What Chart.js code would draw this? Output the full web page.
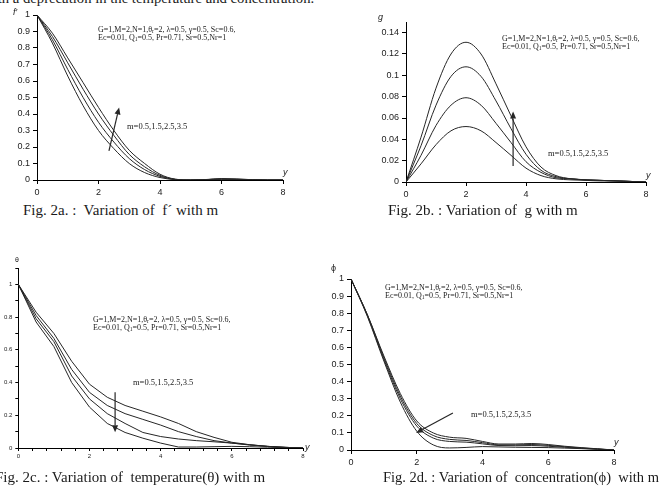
<!DOCTYPE html>
<html>
<head>
<meta charset="utf-8">
<script src="https://cdn.jsdelivr.net/npm/chart.js@4.4.1/dist/chart.umd.min.js"></script>
<style>
  html, body { margin: 0; padding: 0; background: #fff; }
  body { width: 665px; height: 503px; position: relative; overflow: hidden; font-family: 'Liberation Serif', 'Times New Roman', serif; color: #1a1a1a; }
  canvas { position: absolute; }
  .t { position: absolute; white-space: pre; line-height: 1; }
  .cap { font-size: 15px; }
  .top { font-size: 14.7px; }
  .par { font-size: 8px; line-height: 8px; }
  .m { font-size: 8.5px; }
  .ax { font-family: 'Liberation Sans', Arial, sans-serif; font-style: italic; font-size: 9px; }
  sub { font-size: 0.7em; vertical-align: -1px; line-height: 0; }
</style>
</head>
<body>
<div class="t top" style="left:-17px; top:-9px;">with a deprecation in the temperature and concentration.</div>

<canvas id="figA"></canvas>
<canvas id="figB"></canvas>
<canvas id="figC"></canvas>
<canvas id="figD"></canvas>

<div class="t ax" style="left:13px; top:8px;">f′</div>
<div class="t ax" style="left:283px; top:168px;">y</div>
<div class="t par" style="left:98px; top:26px;">G=1,M=2,N=1,θ<sub>r</sub>=2, λ=0.5, γ=0.5, Sc=0.6,
Ec=0.01, Q<sub>1</sub>=0.5, Pr=0.71, Sr=0.5,Nr=1</div>
<div class="t m" style="left:127px; top:122px;">m=0.5,1.5,2.5,3.5</div>
<div class="t cap" style="left:23px; top:203px;">Fig. 2a. :  Variation of  f´ with m</div>

<div class="t ax" style="left:378px; top:13px;">g</div>
<div class="t ax" style="left:646px; top:171px;">y</div>
<div class="t par" style="left:502px; top:35px;">G=1,M=2,N=1,θ<sub>r</sub>=2, λ=0.5, γ=0.5, Sc=0.6,
Ec=0.01, Q<sub>1</sub>=0.5, Pr=0.71, Sr=0.5,Nr=1</div>
<div class="t m" style="left:548px; top:149px;">m=0.5,1.5,2.5,3.5</div>
<div class="t cap" style="left:388px; top:203px;">Fig. 2b. : Variation of  g with m</div>

<div class="t ax" style="left:15px; top:256px; font-size:7px; font-style:normal;">θ</div>
<div class="t ax" style="left:305px; top:443px;">y</div>
<div class="t par" style="left:93px; top:316px;">G=1,M=2,N=1,θ<sub>r</sub>=2, λ=0.5, γ=0.5, Sc=0.6,
Ec=0.01, Q<sub>1</sub>=0.5, Pr=0.71, Sr=0.5,Nr=1</div>
<div class="t m" style="left:133px; top:378px;">m=0.5,1.5,2.5,3.5</div>
<div class="t cap" style="left:-5px; top:470px;">Fig. 2c. : Variation of  temperature(θ) with m</div>

<div class="t ax" style="left:331px; top:264px; font-style:normal;">ϕ</div>
<div class="t ax" style="left:614px; top:438px;">y</div>
<div class="t par" style="left:385px; top:284px;">G=1,M=2,N=1,θ<sub>r</sub>=2, λ=0.5, γ=0.5, Sc=0.6,
Ec=0.01, Q<sub>1</sub>=0.5, Pr=0.71, Sr=0.5,Nr=1</div>
<div class="t m" style="left:471px; top:410px;">m=0.5,1.5,2.5,3.5</div>
<div class="t cap" style="left:383px; top:470px; font-size:14.5px;">Fig. 2d. : Variation of  concentration(ϕ)  with m</div>

<script>
// y positions shared by every curve
const etas = [0, 0.5, 1, 1.5, 2, 2.5, 3, 3.5, 4, 4.5, 5, 5.5, 6, 6.5, 7, 7.5, 8];
const etaTicks = [0, 2, 4, 6, 8];

// Fig. 2a  f'
const fpM05 = [1, 0.83, 0.63, 0.45, 0.30, 0.19, 0.10, 0.045, 0.015, 0.002, 0, 0.001, 0.004, 0.003, 0.001, 0, 0];
const fpM15 = [1, 0.85, 0.67, 0.50, 0.35, 0.23, 0.13, 0.063, 0.022, 0.003, 0, 0.002, 0.006, 0.004, 0.001, 0, 0];
const fpM25 = [1, 0.87, 0.71, 0.55, 0.40, 0.27, 0.155, 0.08, 0.028, 0.004, 0, 0.002, 0.007, 0.005, 0.002, 0, 0];
const fpM35 = [1, 0.89, 0.74, 0.59, 0.44, 0.30, 0.18, 0.10, 0.035, 0.005, 0, 0.003, 0.008, 0.006, 0.002, 0, 0];
const fpTicks = [0, 0.1, 0.2, 0.3, 0.4, 0.5, 0.6, 0.7, 0.8, 0.9, 1];

// Fig. 2b  g
const gM05 = [0, 0.017, 0.035, 0.048, 0.052, 0.048, 0.037, 0.025, 0.013, 0.006, 0.003, 0.002, 0.0015, 0.001, 0.001, 0.0005, 0];
const gM15 = [0, 0.025, 0.053, 0.072, 0.079, 0.072, 0.055, 0.037, 0.019, 0.009, 0.004, 0.003, 0.002, 0.0015, 0.001, 0.0005, 0];
const gM25 = [0, 0.034, 0.072, 0.099, 0.108, 0.099, 0.076, 0.050, 0.026, 0.011, 0.005, 0.003, 0.002, 0.0015, 0.001, 0.0005, 0];
const gM35 = [0, 0.042, 0.088, 0.120, 0.131, 0.120, 0.092, 0.062, 0.033, 0.014, 0.006, 0.003, 0.002, 0.0015, 0.001, 0.0005, 0];
const gTicks = [0, 0.02, 0.04, 0.06, 0.08, 0.1, 0.12, 0.14];

// Fig. 2c  theta
const thM05 = [1, 0.83, 0.70, 0.53, 0.39, 0.31, 0.26, 0.225, 0.19, 0.15, 0.10, 0.065, 0.035, 0.02, 0.01, 0.004, 0];
const thM15 = [1, 0.81, 0.67, 0.48, 0.34, 0.26, 0.21, 0.175, 0.14, 0.10, 0.07, 0.045, 0.03, 0.018, 0.01, 0.004, 0];
const thM25 = [1, 0.79, 0.65, 0.44, 0.30, 0.21, 0.15, 0.095, 0.07, 0.055, 0.045, 0.038, 0.03, 0.02, 0.01, 0.004, 0];
const thM35 = [1, 0.77, 0.62, 0.40, 0.25, 0.15, 0.095, 0.06, 0.03, 0.006, 0.006, 0.008, 0.01, 0.008, 0.005, 0.002, 0];
const thTicks = [0, 0.1, 0.2, 0.3, 0.4, 0.5, 0.6, 0.7, 0.8, 0.9, 1, 1.1];
const thLabels = [0, 0.2, 0.4, 0.6, 0.8, 1];
const thEtaTicks = [0, 0.4, 0.8, 1.2, 1.6, 2, 2.4, 2.8, 3.2, 3.6, 4, 4.4, 4.8, 5.2, 5.6, 6, 6.4, 6.8, 7.2, 7.6, 8];

// Fig. 2d  phi
const phM05 = [1, 0.79, 0.55, 0.33, 0.17, 0.10, 0.075, 0.068, 0.05, 0.035, 0.035, 0.038, 0.032, 0.022, 0.014, 0.007, 0];
const phM15 = [1, 0.79, 0.54, 0.315, 0.155, 0.085, 0.062, 0.056, 0.043, 0.03, 0.03, 0.032, 0.027, 0.019, 0.012, 0.006, 0];
const phM25 = [1, 0.785, 0.53, 0.30, 0.14, 0.07, 0.05, 0.046, 0.036, 0.026, 0.025, 0.026, 0.022, 0.016, 0.01, 0.005, 0];
const phM35 = [1, 0.78, 0.52, 0.28, 0.11, 0.03, 0.012, 0.015, 0.02, 0.018, 0.016, 0.015, 0.014, 0.011, 0.008, 0.004, 0];
const phTicks = [0, 0.1, 0.2, 0.3, 0.4, 0.5, 0.6, 0.7, 0.8, 0.9, 1];

const ink = '#262626';

const arrowPlugin = {
  id: 'arrow',
  afterDatasetsDraw(chart, args, opts) {
    if (!opts.from) return;
    const { x, y } = chart.scales;
    const x1 = x.getPixelForValue(opts.from[0]);
    const y1 = y.getPixelForValue(opts.from[1]);
    const x2 = x.getPixelForValue(opts.to[0]);
    const y2 = y.getPixelForValue(opts.to[1]);
    const a = Math.atan2(y2 - y1, x2 - x1);
    const c = Math.cos(a), s = Math.sin(a);
    const len = 7, half = 3;
    const ctx = chart.ctx;
    ctx.save();
    ctx.strokeStyle = ink;
    ctx.fillStyle = ink;
    ctx.lineWidth = 1.2;
    ctx.beginPath();
    ctx.moveTo(x1, y1);
    ctx.lineTo(x2 - len * c, y2 - len * s);
    ctx.stroke();
    ctx.beginPath();
    ctx.moveTo(x2, y2);
    ctx.lineTo(x2 - len * c + half * s, y2 - len * s - half * c);
    ctx.lineTo(x2 - len * c - half * s, y2 - len * s + half * c);
    ctx.closePath();
    ctx.fill();
    ctx.restore();
  },
};

function fmt(v) {
  return String(Number(v.toFixed(3)));
}

function axis(ticks, labels, min, max, size, tickLen, pad, fixed) {
  return {
    type: 'linear',
    min,
    max,
    border: { display: true, color: '#000', width: 1 },
    grid: { drawOnChartArea: false, drawTicks: true, tickLength: tickLen, color: '#000' },
    afterBuildTicks: (scale) => {
      scale.ticks = ticks.map((v) => ({ value: v }));
    },
    afterFit: (scale) => {
      if (scale.isHorizontal()) scale.height = fixed;
      else scale.width = fixed;
    },
    ticks: {
      autoSkip: false,
      maxRotation: 0,
      padding: pad,
      color: '#222',
      font: { family: 'Liberation Sans', size },
      callback: (v) => (labels.some((l) => Math.abs(l - v) < 1e-9) ? fmt(v) : ''),
    },
  };
}

function makeFigure(id, cfg) {
  const el = document.getElementById(id);
  const [pl, pt, pr, pb] = cfg.pad;
  const w = Math.round(pl + cfg.box.r - cfg.box.l + pr);
  const h = Math.round(pt + cfg.box.b - cfg.box.t + pb);
  el.width = w;
  el.height = h;
  el.style.left = (cfg.box.l - pl) + 'px';
  el.style.top = (cfg.box.t - pt) + 'px';

  return new Chart(el, {
    type: 'line',
    data: {
      datasets: cfg.series.map((ys) => ({
        data: etas.map((x, i) => ({ x, y: ys[i] })),
        borderColor: ink,
        borderWidth: 1,
        pointRadius: 0,
        fill: false,
        tension: cfg.smooth ? 0.4 : 0,
        cubicInterpolationMode: cfg.smooth ? 'monotone' : 'default',
      })),
    },
    options: {
      responsive: false,
      animation: false,
      devicePixelRatio: 1,
      layout: { padding: { left: 0, top: pt, right: pr, bottom: 0 } },
      plugins: {
        legend: { display: false },
        tooltip: { enabled: false },
        arrow: cfg.arrow,
      },
      scales: {
        x: axis(cfg.xTicks, cfg.xLabels, 0, 8, cfg.font, cfg.tickLen, cfg.xPad, pb),
        y: axis(cfg.yTicks, cfg.yLabels, 0, cfg.yMax, cfg.font, cfg.tickLen, cfg.yPad, pl),
      },
    },
    plugins: [arrowPlugin],
  });
}

makeFigure('figA', {
  box: { l: 37, t: 15, r: 283, b: 180 },
  pad: [37, 10, 12, 22],
  series: [fpM05, fpM15, fpM25, fpM35],
  xTicks: etaTicks, xLabels: etaTicks,
  yTicks: fpTicks, yLabels: fpTicks, yMax: 1,
  font: 9, tickLen: 4, xPad: 3, yPad: 3,
  smooth: true,
  arrow: { from: [2.34, 0.176], to: [2.67, 0.44] },
});

makeFigure('figB', {
  box: { l: 406, t: 21.6, r: 646, b: 182 },
  pad: [40, 10, 12, 22],
  series: [gM05, gM15, gM25, gM35],
  xTicks: etaTicks, xLabels: etaTicks,
  yTicks: gTicks, yLabels: gTicks, yMax: 0.15,
  font: 9, tickLen: 4, xPad: 3, yPad: 3,
  smooth: true,
  arrow: { from: [3.57, 0.015], to: [3.57, 0.066] },
});

makeFigure('figC', {
  box: { l: 18.3, t: 268, r: 303, b: 447.7 },
  pad: [18.3, 8, 10, 16],
  series: [thM05, thM15, thM25, thM35],
  xTicks: thEtaTicks, xLabels: etaTicks,
  yTicks: thTicks, yLabels: thLabels, yMax: 1.1,
  font: 6, tickLen: 3, xPad: 2, yPad: 3,
  smooth: false,
  arrow: { from: [2.72, 0.34], to: [2.72, 0.096] },
});

makeFigure('figD', {
  box: { l: 351, t: 279, r: 614, b: 450 },
  pad: [30, 10, 12, 22],
  series: [phM05, phM15, phM25, phM35],
  xTicks: etaTicks, xLabels: etaTicks,
  yTicks: phTicks, yLabels: phTicks, yMax: 1,
  font: 9, tickLen: 4, xPad: 3, yPad: 3,
  smooth: true,
  arrow: { from: [3.1, 0.216], to: [1.98, 0.1] },
});
</script>
</body>
</html>
